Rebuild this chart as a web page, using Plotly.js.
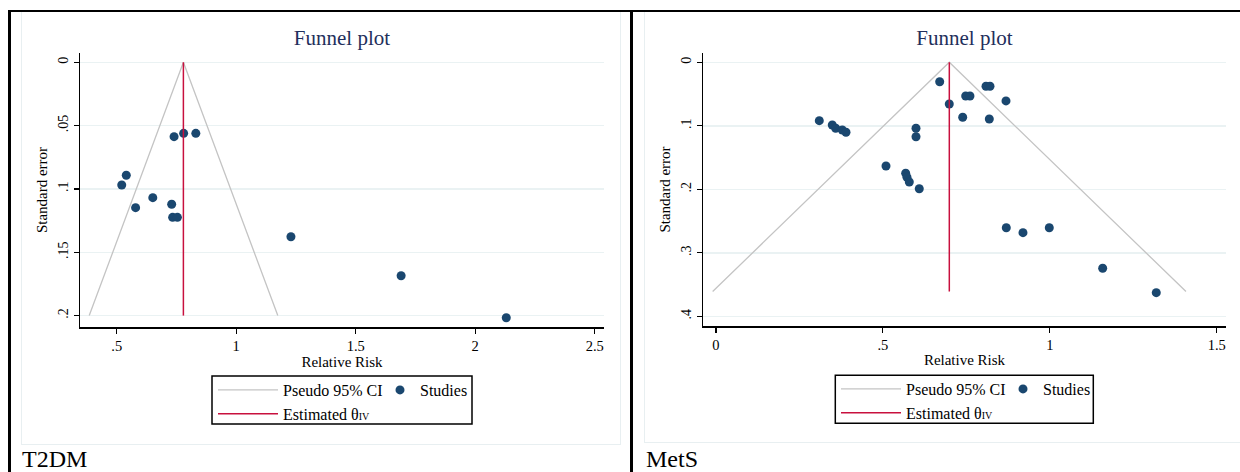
<!DOCTYPE html>
<html>
<head>
<meta charset="utf-8">
<script src="https://cdn.plot.ly/plotly-3.0.1.min.js"></script>
<style>
  html, body { margin: 0; padding: 0; background: #ffffff; }
  #page { position: relative; width: 1240px; height: 472px; overflow: hidden; background: #ffffff; }
  .plot { position: absolute; top: 0; height: 472px; }
  .deco { position: absolute; pointer-events: none; }
</style>
</head>
<body>
<div id="page">
  <div class="deco" style="left:21px;top:10px;width:598px;height:434px;border:1.5px solid #e8eff1;border-top:none;"></div>
  <div class="deco" style="left:644px;top:10px;width:600px;height:432px;border:1.5px solid #e8eff1;border-top:none;border-right:none;"></div>
  <div id="p1" class="plot" style="left:0px;width:631px;"></div>
  <div id="p2" class="plot" style="left:631px;width:609px;"></div>
  <div class="deco" style="left:8px;top:10px;width:1232px;height:1.5px;background:#000;"></div>
  <div class="deco" style="left:8px;top:10px;width:2.5px;height:462px;background:#000;"></div>
  <div class="deco" style="left:630px;top:10px;width:2.5px;height:462px;background:#000;"></div>
</div>
<script>
// ---------------- Data: T2DM panel ----------------
var T2_STUDY_RR = [0.740, 0.780, 0.831, 0.540, 0.521, 0.651, 0.579, 0.730, 0.734, 0.754, 1.229, 1.690, 2.130];
var T2_STUDY_SE = [0.0587, 0.0561, 0.0561, 0.0892, 0.0969, 0.1069, 0.1148, 0.1121, 0.1224, 0.1224, 0.1377, 0.1685, 0.2017];
var T2_CI_RR = [0.385, 0.779, 1.174];
var T2_CI_SE = [0.2, 0, 0.2];
var T2_THETA_RR = [0.779, 0.779];
var T2_THETA_SE = [0, 0.2];
var T2_X_TICKS = [0.5, 1, 1.5, 2, 2.5];
var T2_X_LABELS = ['.5', '1', '1.5', '2', '2.5'];
var T2_Y_TICKS = [0, 0.05, 0.1, 0.15, 0.2];
var T2_Y_LABELS = ['0', '.05', '.1', '.15', '.2'];

// ---------------- Data: MetS panel ----------------
var MS_STUDY_RR = [0.3095, 0.3484, 0.3586, 0.3784, 0.3895, 0.5992, 0.5992, 0.5093, 0.5683, 0.5722, 0.5791, 0.6090,
                   0.6702, 0.6989, 0.7481, 0.7609, 0.8089, 0.8209, 0.8688, 0.7391, 0.8188,
                   0.8697, 0.9197, 0.9985, 1.1585, 1.3190];
var MS_STUDY_SE = [0.0920, 0.0987, 0.1039, 0.1066, 0.1102, 0.1039, 0.1172, 0.1633, 0.1748, 0.1811, 0.1885, 0.1991,
                   0.0306, 0.0657, 0.0531, 0.0531, 0.0378, 0.0378, 0.0609, 0.0866, 0.0893,
                   0.2605, 0.2683, 0.2605, 0.3244, 0.3628];
var MS_CI_RR = [-0.010, 0.699, 1.408];
var MS_CI_SE = [0.361, 0, 0.361];
var MS_THETA_RR = [0.699, 0.699];
var MS_THETA_SE = [0, 0.361];
var MS_X_TICKS = [0, 0.5, 1, 1.5];
var MS_X_LABELS = ['0', '.5', '1', '1.5'];
var MS_Y_TICKS = [0, 0.1, 0.2, 0.3, 0.4];
var MS_Y_LABELS = ['0', '.1', '.2', '.3', '.4'];

// ---------------- Style ----------------
var FONT = '"Liberation Serif", "Times New Roman", Times, serif';
var NAVY = '#1a476f';
var RED = '#c8103e';
var GREY = '#c4c4c4';
var GRID = '#eaf2f3';

function panel(divId, cfg) {
  var traces = [
    { type: 'scatter', mode: 'markers', x: cfg.rr, y: cfg.se, name: 'Studies',
      marker: { color: NAVY, size: 9, line: { width: 0 } }, legend: 'legend2', showlegend: true,
      hoverinfo: 'x+y' },
    { type: 'scatter', mode: 'lines', x: cfg.ciRR, y: cfg.ciSE, name: 'Pseudo 95% CI',
      line: { color: GREY, width: 1.3 }, legend: 'legend', showlegend: true, hoverinfo: 'skip' },
    { type: 'scatter', mode: 'lines', x: cfg.thRR, y: cfg.thSE,
      name: 'Estimated θ<span style="font-size:10px">IV</span>',
      line: { color: RED, width: 1.5 }, legend: 'legend', showlegend: true, hoverinfo: 'skip' }
  ];
  var m = cfg.margin;
  var layout = {
    width: cfg.width, height: 472,
    margin: { l: m.l, r: m.r, t: m.t, b: m.b, pad: 0 },
    paper_bgcolor: 'rgba(0,0,0,0)', plot_bgcolor: 'rgba(0,0,0,0)',
    font: { family: FONT, color: '#000', size: 14 },
    showlegend: true,
    title: { text: 'Funnel plot', font: { family: FONT, size: 21, color: '#1f2f5c' },
             x: 0.5, xref: 'paper', xanchor: 'center', y: 1 - 38 / 472, yref: 'container', yanchor: 'middle' },
    xaxis: {
      range: cfg.xRange, tickmode: 'array', tickvals: cfg.xTicks, ticktext: cfg.xLabels,
      ticks: 'outside', ticklen: 5, tickwidth: 1.2, tickcolor: '#000',
      showline: true, linecolor: '#000', linewidth: 1.5, mirror: false,
      showgrid: false, zeroline: false, fixedrange: true,
      tickfont: { family: FONT, size: 14.5, color: '#000' },
      title: { text: 'Relative Risk', font: { family: FONT, size: 15, color: '#000' }, standoff: 2 }
    },
    yaxis: {
      range: cfg.yRange, tickmode: 'array', tickvals: cfg.yTicks, ticktext: cfg.yLabels,
      tickangle: -90,
      ticks: 'outside', ticklen: 5, tickwidth: 1.2, tickcolor: '#000',
      showline: true, linecolor: '#000', linewidth: 1.5, mirror: false,
      showgrid: true, gridcolor: GRID, gridwidth: 1.5, zeroline: false, fixedrange: true,
      tickfont: { family: FONT, size: 14, color: '#000' },
      title: { text: 'Standard error', font: { family: FONT, size: 15, color: '#000' }, standoff: 4 }
    },
    legend: {
      orientation: 'v', x: cfg.leg1x, xanchor: 'left', y: cfg.legy, yanchor: 'top',
      bgcolor: 'rgba(0,0,0,0)', borderwidth: 0, itemwidth: 60,
      font: { family: FONT, size: 16, color: '#000' }, traceorder: 'normal'
    },
    legend2: {
      orientation: 'v', x: cfg.leg2x, xanchor: 'left', y: cfg.legy, yanchor: 'top',
      bgcolor: 'rgba(0,0,0,0)', borderwidth: 0, itemwidth: 30,
      font: { family: FONT, size: 16, color: '#000' }
    },
    shapes: [
      { type: 'rect', xref: 'paper', yref: 'paper', x0: cfg.box[0], x1: cfg.box[1], y0: cfg.box[2], y1: cfg.box[3],
        line: { color: '#000', width: 1.5 }, fillcolor: 'rgba(0,0,0,0)', layer: 'above' }
    ],
    annotations: [
      { text: cfg.label, xref: 'paper', yref: 'paper', x: cfg.labelX, y: cfg.labelY,
        xanchor: 'left', yanchor: 'middle', showarrow: false,
        font: { family: FONT, size: 24, color: '#000' } }
    ]
  };
  Plotly.newPlot(divId, traces, layout, { displayModeBar: false, staticPlot: true });
}

// Left panel: plot area x 80..604, y 53..327 within a 631-wide div
panel('p1', {
  width: 631, margin: { l: 80, r: 27, t: 53, b: 145 },
  rr: T2_STUDY_RR, se: T2_STUDY_SE, ciRR: T2_CI_RR, ciSE: T2_CI_SE, thRR: T2_THETA_RR, thSE: T2_THETA_SE,
  xRange: [0.3464, 2.5389], yRange: [0.2090, -0.00734],
  xTicks: T2_X_TICKS, xLabels: T2_X_LABELS, yTicks: T2_Y_TICKS, yLabels: T2_Y_LABELS,
  leg1x: (213 - 80) / 524, leg2x: (380 - 80) / 524, legy: (327 - 373) / 274,
  box: [(212 - 80) / 524, (472 - 80) / 524, (327 - 424) / 274, (327 - 376) / 274],
  label: 'T2DM', labelX: (20 - 80) / 524, labelY: (327 - 459) / 274
});

// Right panel: plot area x 72..595, y 53..326 within a 609-wide div (page offset 631)
panel('p2', {
  width: 609, margin: { l: 72, r: 14, t: 53, b: 146 },
  rr: MS_STUDY_RR, se: MS_STUDY_SE, ciRR: MS_CI_RR, ciSE: MS_CI_SE, thRR: MS_THETA_RR, thSE: MS_THETA_SE,
  xRange: [-0.0389, 1.5279], yRange: [0.4153, -0.0146],
  xTicks: MS_X_TICKS, xLabels: MS_X_LABELS, yTicks: MS_Y_TICKS, yLabels: MS_Y_LABELS,
  leg1x: (205 - 72) / 523, leg2x: (372 - 72) / 523, legy: (326 - 372) / 273,
  box: [(204.3 - 72) / 523, (462.3 - 72) / 523, (326 - 423.3) / 273, (326 - 375.3) / 273],
  label: 'MetS', labelX: (13 - 72) / 523, labelY: (326 - 459) / 273
});
</script>
</body>
</html>
